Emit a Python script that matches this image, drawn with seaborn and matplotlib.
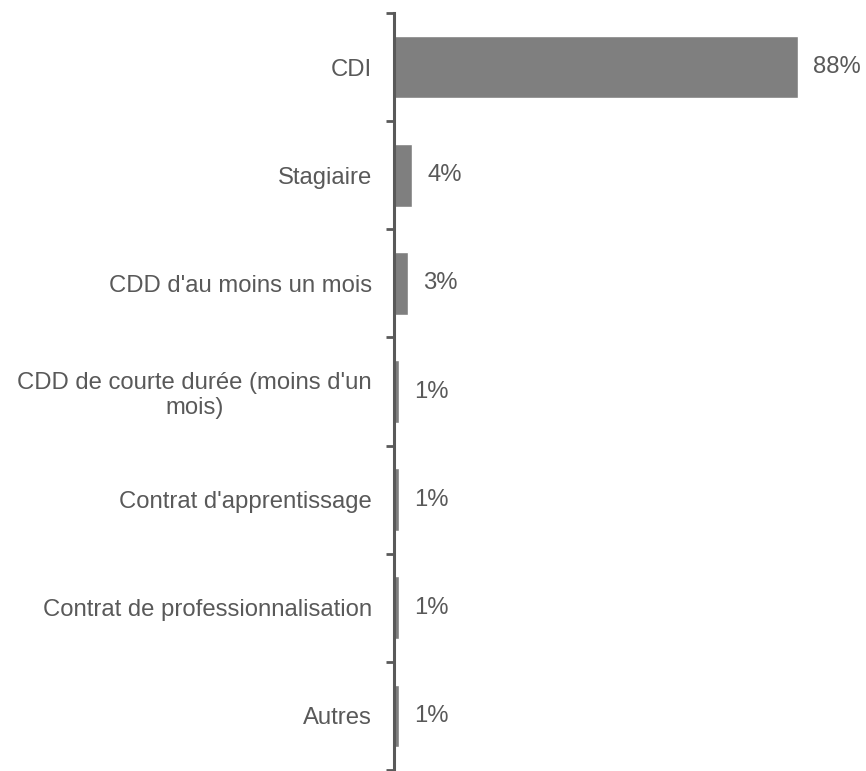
import matplotlib
matplotlib.use("Agg")
import matplotlib.pyplot as plt
import seaborn as sns
import pandas as pd
import numpy as np

categories = [
    "CDI",
    "Stagiaire",
    "CDD d'au moins un mois",
    "CDD de courte durée (moins d'un\nmois)",
    "Contrat d'apprentissage",
    "Contrat de professionnalisation",
    "Autres",
]
shares = [88, 4, 3, 1, 1, 1, 1]
value_labels = ["88%", "4%", "3%", "1%", "1%", "1%", "1%"]

df = pd.DataFrame({"category": categories, "share": shares})

sns.set_style("white")
plt.rcParams["font.family"] = ["Liberation Sans", "DejaVu Sans"]

text_color = "#595959"
bar_color = "#7f7f7f"
axis_color = "#595959"
fsize = 17.2

fig = plt.figure(figsize=(8.66, 7.71), dpi=100)
ax = fig.add_axes([394 / 866, 1 / 771, 459 / 866, 757 / 771])

sns.barplot(data=df, x="share", y="category", orient="h", color=bar_color,
            width=0.58, saturation=1, ax=ax)

ax.set_xlim(0, 100)
ax.set_ylim(len(categories) - 0.5, -0.5)

for c in ax.containers:
    ax.bar_label(c, labels=value_labels, padding=11, fontsize=fsize, color=text_color)

ax.set_xlabel("")
ax.set_ylabel("")
ax.set_xticks([])

ax.set_yticks(np.arange(len(categories)))
ax.set_yticklabels(categories, fontsize=fsize, color=text_color,
                   multialignment="center", linespacing=1.15)
ax.tick_params(axis="y", which="major", length=0, pad=16)
# tick marks sit on the boundaries between categories
ax.set_yticks(np.arange(len(categories) + 1) - 0.5, minor=True)
ax.tick_params(axis="y", which="minor", left=True, length=6, width=2,
               color=axis_color, direction="out")

for side in ["top", "right", "bottom"]:
    ax.spines[side].set_visible(False)
ax.spines["left"].set_color(axis_color)
ax.spines["left"].set_linewidth(2.2)

fig.savefig("out.png", dpi=100)
